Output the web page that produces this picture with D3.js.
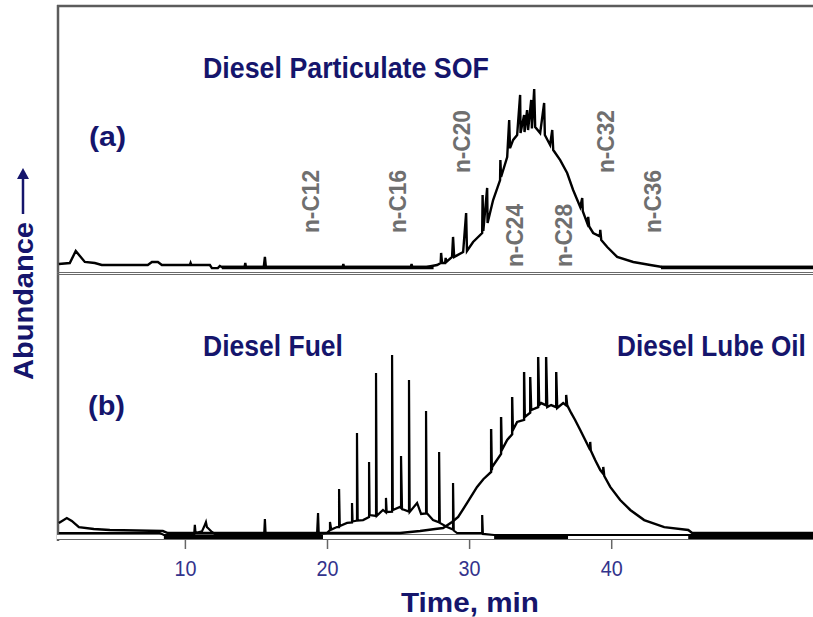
<!DOCTYPE html>
<html>
<head>
<meta charset="utf-8">
<script src="https://cdnjs.cloudflare.com/ajax/libs/d3/7.8.5/d3.min.js"></script>
<style>
    body { margin: 0; background: #fff; }
    svg { display: block; }
</style>
</head>
<body>
<div id="chart"></div>
<script>
    // retention time (min) vs abundance (0-100, arbitrary)
    var timeTicks = [10, 20, 30, 40];

    // (a) diesel particulate SOF
    var sofTrace = [[1.13,1.7],[1.9,2.2],[2.32,8.9],[2.61,6.1],[2.96,2.8],[3.66,2.2],[4.15,1.1],[7.39,1.1],[7.68,2.8],[8.1,2.8],[8.38,1.1],
        [10.35,1.1],[10.4,2.2],[10.45,1.1],[11.76,1.1],[11.9,-0.6],[12.32,-0.6],[12.46,0.6],[12.6,0],[14.2,0],[14.25,2.2],[14.3,0],
        [15.55,0],[15.63,5.6],[15.7,0],[21.1,0],[21.15,1.7],[21.2,0],[25.9,0],[25.95,1.7],[26.0,0],[27.0,0],[27.75,1.1],[28.0,2.2],
        [28.03,7.8],[28.1,2.2],[28.31,2.2],[28.35,5.0],[28.4,2.8],[28.8,5.6],[28.87,16.7],[28.95,5.6],[29.58,8.3],[29.79,30],[29.85,8.9],
        [30.28,13.9],[30.92,18.9],[30.95,40],[31.0,20],[31.27,43.9],[31.3,24.4],[31.69,37.2],[32.18,48.3],[32.2,59.4],[32.25,50],
        [32.68,61.1],[32.82,81.7],[32.88,66],[33.1,70.6],[33.38,73.3],[33.59,95.6],[33.62,74.4],[33.87,84.4],[33.9,75],[34.08,87.2],
        [34.15,76.1],[34.37,92.8],[34.42,77],[34.58,98.9],[34.65,77.8],[35.0,74.4],[35.28,91.1],[35.33,73.3],[35.7,67.8],[35.85,76.1],
        [35.92,65],[36.41,59.4],[36.9,52.2],[37.32,42.8],[37.82,33.3],[37.96,38.3],[38.0,31],[38.31,24.4],[38.38,27.8],[38.45,22.5],
        [38.73,18.9],[39.2,17],[39.23,20.6],[39.3,15],[39.72,11.1],[40.42,5.6],[41.55,2.8],[42.75,1.1],[43.59,0],[54.2,0]];
    var sofHeavy = [[12.6, 27.5], [43.5, 54.2]];

    // (b) diesel lube oil
    var lubeTrace = [[1.13,6.7],[1.69,9.4],[2.04,7.8],[2.54,4.4],[3.59,3.3],[4.72,2.8],[8.45,2.2],[8.8,1.1],[25.14,1.1],[26.55,2.2],
        [27.61,3.3],[28.17,3.9],[28.8,7.2],[29.23,10],[29.86,17.8],[30.56,26.7],[31.0,31],[31.55,35],[31.55,58.9],[31.6,36],[31.62,37.8],
        [32.25,45],[32.25,65.6],[32.3,47.2],[32.68,52.8],[33.03,56],[33.03,76.7],[33.08,58.3],[33.38,62.8],[33.87,64],[33.87,90.6],
        [33.92,65.6],[34.3,68],[34.3,87.8],[34.37,69.4],[34.86,71],[34.86,98.9],[34.93,72.2],[35.07,73.3],[35.42,72],[35.42,98.9],
        [35.5,71.1],[35.77,72.2],[36.13,71],[36.13,90.6],[36.2,70.6],[36.62,73.3],[36.83,72],[36.83,77.8],[36.9,72.2],[37.18,67.8],
        [37.46,63.9],[37.82,58.3],[38.52,47.2],[38.52,51.7],[38.56,47],[38.87,41.7],[39.23,36.1],[39.44,34],[39.44,37.8],[39.51,32.8],
        [39.93,26.7],[40.63,19.4],[41.34,13.9],[42.32,8.3],[43.73,4.4],[45.42,2.8],[45.7,1.1],[54.2,1.1]];

    // (b) diesel fuel
    var fuelTrace = [[1.13,1.1],[8.24,1.1],[8.52,0],[10.65,0],[10.7,5.6],[10.75,1.1],[11.2,2],[11.34,4.4],[11.48,7.2],[11.55,4.4],
        [11.62,3.9],[11.9,1.7],[12.1,0.6],[15.58,0.6],[15.63,8.9],[15.68,0.6],[19.3,0.6],[19.37,12.2],[19.42,0.6],[20.0,1.1],
        [20.21,2.8],[20.21,7.2],[20.3,3],[20.7,4.4],[20.85,4.4],[20.85,25.6],[20.9,5],[21.41,6.7],[21.76,7],[21.76,17.8],[21.8,7.5],
        [21.97,7.8],[22.11,8],[22.11,56.7],[22.16,8],[22.54,8.3],[22.96,10],[22.96,40.6],[23.0,11.1],[23.45,10.6],[23.45,90],[23.5,10.6],
        [23.94,13.9],[24.15,12.5],[24.15,20.6],[24.2,12.8],[24.58,13],[24.58,100],[24.63,13.9],[25.14,15.6],[25.21,15],[25.21,43.9],
        [25.28,14.4],[25.77,13],[25.77,86.1],[25.82,12.8],[26.34,17.8],[26.62,11.7],[26.97,12],[26.97,68.9],[27.02,12.2],[27.46,8.3],
        [27.89,7],[27.89,46.1],[27.94,6.7],[28.45,4.4],[28.87,3],[28.87,28.9],[28.92,2.5],[29.15,1.1],[30.92,1.1],[30.92,11.1],
        [30.97,0.6],[31.76,0],[54.2,0]];

    // baseline band under (b): [from, to, dark]
    var baseBand = [[1, 8.52, 0], [8.52, 19.72, 1], [19.72, 31.76, 0], [31.76, 36.97, 1], [36.97, 45.42, 0], [45.42, 54.2, 1]];

    var alkaneNames = ["n-C12", "n-C16", "n-C20", "n-C24", "n-C28", "n-C32", "n-C36"];
    var alkaneTimes = [18.87, 25.0, 29.5, 33.24, 36.69, 39.58, 42.89];
    var alkaneLevels = [18.9, 18.9, 52.2, 0, 0, 52.2, 18.9];

    var width = 813, height = 617;
    var navy = "#15156c";
    var font = "'Liberation Sans', Arial, sans-serif";

    var x = d3.scaleLinear().domain([1, 54.2]).range([57, 813]);
    var yA = d3.scaleLinear().domain([0, 100]).range([267, 87]);
    var yB = d3.scaleLinear().domain([0, 100]).range([535, 355]);

    var svg = d3.select("#chart").append("svg")
        .attr("width", width)
        .attr("height", height)
        .style("font-family", font);

    // ---------- frame ----------
    svg.append("line").attr("x1", 58).attr("x2", 58).attr("y1", 5).attr("y2", 541)
        .attr("stroke", "#5c5c5c").attr("stroke-width", 2.5);
    svg.append("line").attr("x1", 57).attr("x2", width).attr("y1", 6).attr("y2", 6)
        .attr("stroke", "#5c5c5c").attr("stroke-width", 2.5);
    [272.5, 274.5].forEach(function (yy) {
        svg.append("line").attr("x1", 57).attr("x2", width).attr("y1", yy).attr("y2", yy)
            .attr("stroke", "#6a6a6a").attr("stroke-width", 1);
    });

    // baseline band for panel (b)
    svg.append("g").selectAll("rect")
        .data(baseBand)
        .enter().append("rect")
        .attr("x", function (d) { return x(d[0]); })
        .attr("width", function (d) { return x(d[1]) - x(d[0]); })
        .attr("y", 534.5)
        .attr("height", 5)
        .attr("fill", function (d) { return d[2] ? "#000" : "#fff"; });
    [534.5, 539.5].forEach(function (yy) {
        svg.append("line").attr("x1", 57).attr("x2", width).attr("y1", yy).attr("y2", yy)
            .attr("stroke", "#666").attr("stroke-width", 1);
    });

    // ---------- traces ----------
    var lineA = d3.line().x(function (d) { return x(d[0]); }).y(function (d) { return yA(d[1]); });
    var lineB = d3.line().x(function (d) { return x(d[0]); }).y(function (d) { return yB(d[1]); });

    svg.append("g").selectAll("line")
        .data(sofHeavy)
        .enter().append("line")
        .attr("x1", function (d) { return x(d[0]); })
        .attr("x2", function (d) { return x(d[1]); })
        .attr("y1", yA(0) + 0.5).attr("y2", yA(0) + 0.5)
        .attr("stroke", "#000").attr("stroke-width", 3.5);

    svg.append("path").datum(sofTrace).attr("d", lineA)
        .attr("fill", "none").attr("stroke", "#000").attr("stroke-width", 2.4);
    svg.append("path").datum(fuelTrace).attr("d", lineB)
        .attr("fill", "none").attr("stroke", "#000").attr("stroke-width", 2.2);
    svg.append("path").datum(lubeTrace).attr("d", lineB)
        .attr("fill", "none").attr("stroke", "#000").attr("stroke-width", 2.4);

    // ---------- alkane markers ----------
    svg.append("g").selectAll("text")
        .data(alkaneNames)
        .enter().append("text")
        .attr("transform", function (d, i) {
            return "translate(" + x(alkaneTimes[i]) + "," + yA(alkaneLevels[i]) + ") rotate(-90)";
        })
        .attr("dy", "0.36em")
        .attr("font-size", 23)
        .attr("font-weight", "bold")
        .attr("fill", "#6f6f6f")
        .attr("textLength", 63)
        .attr("lengthAdjust", "spacingAndGlyphs")
        .text(function (d) { return d; });

    // ---------- labels ----------
    // condensed bold look: squeeze each label horizontally to its width in the picture
    function label(txt, xx, yy, size, len) {
        var t = svg.append("text")
            .attr("font-size", size)
            .attr("font-weight", "bold")
            .attr("fill", navy)
            .text(txt);
        var w = t.node().getComputedTextLength();
        t.attr("transform", "translate(" + xx + "," + yy + ") scale(" + (len / w) + ",1)");
    }
    label("Diesel Particulate SOF", 203, 78, 30, 286);
    label("(a)", 89, 146, 27, 37);
    label("Diesel Fuel", 203, 356, 30, 140);
    label("Diesel Lube Oil", 617, 356, 30, 189);
    label("(b)", 88, 415, 27, 37);

    // ---------- x axis ----------
    var xAxis = d3.axisBottom(x)
        .tickValues(timeTicks)
        .tickSize(9)
        .tickPadding(11)
        .tickFormat(d3.format("d"));

    var ax = svg.append("g")
        .attr("transform", "translate(0,540)")
        .call(xAxis);
    ax.select(".domain").remove();
    ax.selectAll(".tick line").attr("stroke", "#666").attr("stroke-width", 1.5);
    ax.selectAll(".tick text")
        .attr("fill", "#33338c")
        .attr("font-size", 22)
        .attr("font-family", font)
        .attr("textLength", 22)
        .attr("lengthAdjust", "spacingAndGlyphs");

    label("Time, min", 401, 612, 28, 138);

    // ---------- y label with arrow ----------
    svg.append("text")
        .attr("transform", "translate(23,380) rotate(-90)")
        .attr("dy", "0.36em")
        .attr("font-size", 27)
        .attr("font-weight", "bold")
        .attr("fill", navy)
        .attr("textLength", 158)
        .attr("lengthAdjust", "spacingAndGlyphs")
        .text("Abundance");
    svg.append("line")
        .attr("x1", 23).attr("x2", 23).attr("y1", 214).attr("y2", 176)
        .attr("stroke", navy).attr("stroke-width", 2.5);
    svg.append("path")
        .attr("d", "M17,179L23,168L29,179Z")
        .attr("fill", navy);
</script>
</body>
</html>
